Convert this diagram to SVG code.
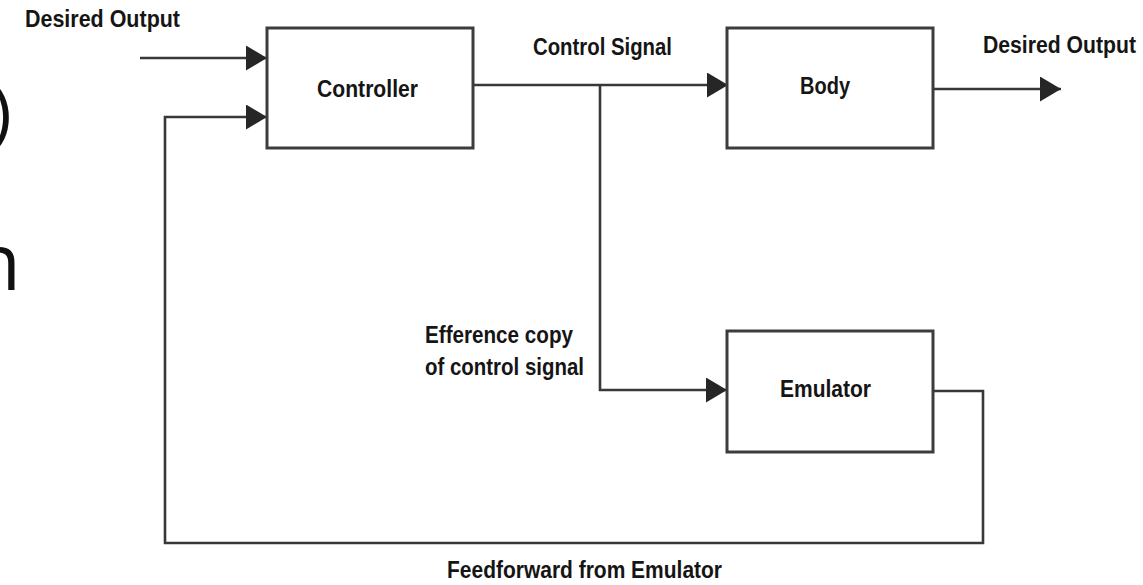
<svg xmlns="http://www.w3.org/2000/svg" width="1143" height="585" viewBox="0 0 1143 585">
  <style>
    .box { fill: #ffffff; stroke: #3c3c3c; stroke-width: 3; }
    .wire { fill: none; stroke: #383838; stroke-width: 2.6; }
    .lbl { font-family: "Liberation Sans", Arial, sans-serif; font-weight: bold; font-size: 24.5px; fill: #151515; }
    .big { font-family: "Open Sans", "Noto Sans", sans-serif; font-weight: normal; fill: #111111; }
  </style>
  <defs>
    <marker id="arrow" viewBox="0 0 21 25" refX="21" refY="12.5" markerWidth="21" markerHeight="25" markerUnits="userSpaceOnUse" orient="auto">
      <path d="M0,0 L21,12.5 L0,25 Z" fill="#262626"/>
    </marker>
  </defs>

  <rect width="1143" height="585" fill="#ffffff"/>

  <!-- partial glyphs at the left edge -->
  <text class="big" x="-9" y="137" font-size="70">)</text>
  <text class="big" x="-27" y="290" font-size="78">n</text>

  <!-- connectors -->
  <g id="connectors">
    <path class="wire" d="M140,58 H267" marker-end="url(#arrow)"/>
    <path class="wire" d="M933,391 H983 V543 H165 V117 H267" marker-end="url(#arrow)"/>
    <path class="wire" d="M473,85 H728" marker-end="url(#arrow)"/>
    <path class="wire" d="M600,85 V390 H727" marker-end="url(#arrow)"/>
    <path class="wire" d="M933,89 H1061" marker-end="url(#arrow)"/>
  </g>

  <!-- nodes -->
  <g id="controller">
    <rect class="box" x="267" y="28" width="206" height="120"/>
    <text class="lbl" x="317" y="97" font-size="26" textLength="101" lengthAdjust="spacingAndGlyphs">Controller</text>
  </g>
  <g id="body">
    <rect class="box" x="727" y="28" width="206" height="120"/>
    <text class="lbl" x="800" y="94" font-size="26" textLength="50" lengthAdjust="spacingAndGlyphs">Body</text>
  </g>
  <g id="emulator">
    <rect class="box" x="727" y="331" width="206" height="121"/>
    <text class="lbl" x="780" y="397" font-size="26" textLength="91" lengthAdjust="spacingAndGlyphs">Emulator</text>
  </g>

  <!-- connector labels -->
  <g id="labels">
    <text class="lbl" x="25" y="27" textLength="155" lengthAdjust="spacingAndGlyphs">Desired Output</text>
    <text class="lbl" x="533" y="55" textLength="139" lengthAdjust="spacingAndGlyphs">Control Signal</text>
    <text class="lbl" transform="translate(983,53) scale(0.865,1)">Desired Output</text>
    <text class="lbl" x="425" y="343" textLength="148" lengthAdjust="spacingAndGlyphs">Efference copy</text>
    <text class="lbl" x="425" y="375" textLength="159" lengthAdjust="spacingAndGlyphs">of control signal</text>
    <text class="lbl" x="447" y="578" textLength="275" lengthAdjust="spacingAndGlyphs">Feedforward from Emulator</text>
  </g>
</svg>
